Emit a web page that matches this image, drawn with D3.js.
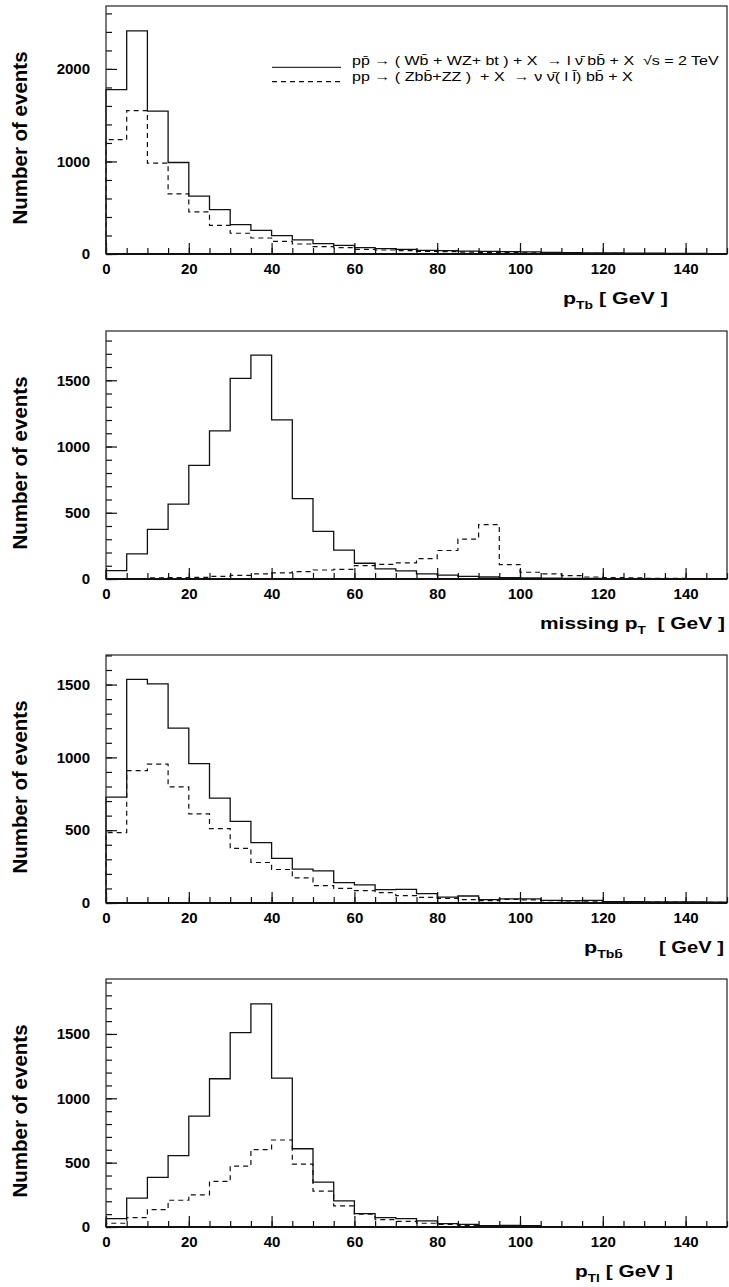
<!DOCTYPE html>
<html>
<head>
<meta charset="utf-8">
<script src="https://cdn.jsdelivr.net/npm/d3@7"></script>
<style>
  body { margin: 0; background: #fff; }
  text { font-family: "Liberation Sans", Arial, sans-serif; white-space: pre; }
</style>
</head>
<body>
<svg id="chart" width="729" height="1287"></svg>
<script>
// 5 GeV bins from 0 to 150 GeV
var binEdges = d3.range(0, 151, 5);

// p_T of b jet
var ptbWbb = [1776, 2412, 1545, 989, 625, 480, 318, 256, 199, 152, 112, 94, 69, 58, 50, 40, 36, 32, 29, 25, 22, 18, 15, 13, 11, 10, 8, 7, 6, 5];
var ptbZbb = [1235, 1549, 982, 650, 455, 310, 224, 173, 137, 108, 79, 69, 50, 43, 36, 29, 25, 20, 18, 14, 12, 10, 8, 7, 6, 5, 4, 4, 3, 3];

// missing p_T
var missWbb = [63, 190, 375, 565, 857, 1118, 1515, 1690, 1201, 606, 360, 218, 119, 76, 61, 38, 30, 20, 15, 10, 8, 6, 5, 4, 3, 3, 2, 2, 2, 2];
var missZbb = [3, 3, 8, 10, 13, 20, 28, 38, 46, 56, 68, 73, 101, 111, 122, 154, 215, 301, 410, 109, 51, 38, 25, 15, 10, 8, 5, 4, 3, 3];

// p_T of b bbar system
var ptbbWbb = [727, 1535, 1505, 1201, 957, 720, 561, 414, 306, 232, 221, 140, 124, 92, 94, 64, 41, 48, 23, 28, 28, 18, 16, 18, 9, 9, 7, 7, 7, 5];
var ptbbZbb = [483, 909, 953, 798, 612, 511, 375, 278, 230, 173, 120, 101, 85, 71, 51, 39, 32, 23, 16, 25, 21, 16, 14, 12, 9, 8, 7, 6, 5, 5];

// p_T of lepton
var ptlWbb = [65, 224, 385, 554, 861, 1152, 1511, 1734, 1157, 608, 348, 203, 104, 73, 65, 47, 26, 21, 10, 13, 10, 3, 3, 2, 2, 2, 2, 1, 1, 1];
var ptlZbb = [29, 73, 135, 208, 250, 354, 473, 601, 676, 489, 278, 164, 99, 57, 44, 29, 21, 13, 8, 8, 5, 4, 3, 3, 2, 2, 2, 1, 1, 1];

var xTicks = d3.range(0, 141, 20);
var legendLabels = [
  "pp\u0304 \u2192 ( Wb\u0304 + WZ+ bt ) + X  \u2192 l \u03bd\u0304 bb\u0304 + X  \u221as = 2 TeV",
  "pp \u2192 ( Zbb\u0304+ZZ )  + X  \u2192 \u03bd \u03bd\u0304( l l\u0304) bb\u0304 + X"
];

var svg = d3.select('#chart');
var x = d3.scaleLinear().domain([0, 150]).range([106, 727]);
var plotH = 248;

var panels = [
  {top: 6,   ymax: 2680, major: [0, 1000, 2000], minor: 200, sig: ptbWbb, bkg: ptbZbb,
   title: [{t: 'p'}, {t: 'Tb', sub: true}, {t: ' [ GeV ]'}], tx: 563, tw: 105},
  {top: 331, ymax: 1872, major: [0, 500, 1000, 1500], minor: 100, sig: missWbb, bkg: missZbb,
   title: [{t: 'missing p'}, {t: 'T', sub: true}, {t: '  [ GeV ]'}], tx: 540, tw: 185},
  {top: 655, ymax: 1703, major: [0, 500, 1000, 1500], minor: 100, sig: ptbbWbb, bkg: ptbbZbb,
   title: [{t: 'p'}, {t: 'Tbb\u0304', sub: true}], tx: 584, tw: 39, title2: '[ GeV ]', t2x: 659, t2w: 65},
  {top: 979, ymax: 1927, major: [0, 500, 1000, 1500], minor: 100, sig: ptlWbb, bkg: ptlZbb,
   title: [{t: 'p'}, {t: 'Tl', sub: true}, {t: ' [ GeV ]'}], tx: 575, tw: 98}
];

// text squeezed/stretched horizontally to a given width
function fitText(parent, px, py, parts, width, size, weight) {
  var g = parent.append('g');
  var t = g.append('text').attr('font-size', size).attr('font-weight', weight || 'bold');
  parts.forEach(function(p) {
    var s = t.append('tspan').text(p.t);
    if (p.sub) s.attr('font-size', size * 0.65).attr('dy', 5);
    else s.attr('dy', p.first ? 0 : null);
  });
  // reset baseline after a subscript
  t.selectAll('tspan').each(function(p, i) {
    if (i > 0 && !parts[i].sub && parts[i - 1].sub) d3.select(this).attr('dy', -5);
  });
  var w = t.node().getComputedTextLength();
  g.attr('transform', 'translate(' + px + ',' + py + ') scale(' + (width / w) + ',1)');
  return g;
}

panels.forEach(function(p) {
  var bottom = p.top + plotH;
  var y = d3.scaleLinear().domain([0, p.ymax]).range([bottom, p.top]);
  var g = svg.append('g');

  var line = d3.line()
    .x(function(d) { return x(d[0]); })
    .y(function(d) { return y(d[1]); })
    .curve(d3.curveStepAfter);

  function steps(vals) {
    var pts = [[0, 0]];
    vals.forEach(function(v, i) { pts.push([binEdges[i], v]); });
    pts.push([150, vals[vals.length - 1]]);
    return pts;
  }

  g.append('path').attr('d', line(steps(p.sig)))
    .attr('fill', 'none').attr('stroke', '#111').attr('stroke-width', 1.3);
  g.append('path').attr('d', line(steps(p.bkg)))
    .attr('fill', 'none').attr('stroke', '#111').attr('stroke-width', 1.2)
    .attr('stroke-dasharray', '5,4');

  // x ticks (inward)
  var xMinor = g.append('g').attr('transform', 'translate(0,' + bottom + ')')
    .call(d3.axisBottom(x).tickValues(d3.range(0, 151, 5)).tickSize(-6).tickFormat(''));
  var xMajor = g.append('g').attr('transform', 'translate(0,' + bottom + ')')
    .call(d3.axisBottom(x).tickValues(xTicks).tickSize(-11).tickPadding(9));
  // y ticks (inward)
  var yMinor = g.append('g').attr('transform', 'translate(' + x(0) + ',0)')
    .call(d3.axisLeft(y).tickValues(d3.range(0, p.ymax, p.minor)).tickSize(-6).tickFormat(''));
  var yMajor = g.append('g').attr('transform', 'translate(' + x(0) + ',0)')
    .call(d3.axisLeft(y).tickValues(p.major).tickSize(-11).tickPadding(16).tickFormat(d3.format('d')));

  [xMinor, xMajor, yMinor, yMajor].forEach(function(a) {
    a.select('.domain').remove();
    a.selectAll('line').attr('stroke', '#111').attr('stroke-width', 1.2);
    a.attr('font-family', null).attr('font-size', 15).attr('font-weight', 'bold');
  });

  // frame
  g.append('rect').attr('x', x(0)).attr('y', p.top)
    .attr('width', x(150) - x(0)).attr('height', plotH)
    .attr('fill', 'none').attr('stroke', '#222').attr('stroke-width', 1.2);
  g.append('line').attr('x1', x(0)).attr('x2', x(150)).attr('y1', bottom).attr('y2', bottom)
    .attr('stroke', '#111').attr('stroke-width', 2);

  // y title
  g.append('text')
    .attr('transform', 'translate(19,' + (p.top + plotH / 2 + 8) + ') rotate(-90)')
    .attr('text-anchor', 'middle').attr('dominant-baseline', 'central')
    .attr('font-size', 20.5).attr('font-weight', 'bold')
    .text('Number of events');

  // x title
  fitText(g, p.tx, bottom + 50, p.title, p.tw, 17);
  if (p.title2) fitText(g, p.t2x, bottom + 50, [{t: p.title2}], p.t2w, 17);
});

// legend in the first panel
var leg = svg.append('g');
leg.append('line').attr('x1', 272).attr('x2', 341).attr('y1', 67.3).attr('y2', 67.3)
  .attr('stroke', '#333').attr('stroke-width', 1.2);
leg.append('line').attr('x1', 272).attr('x2', 341).attr('y1', 81.7).attr('y2', 81.7)
  .attr('stroke', '#111').attr('stroke-width', 1.2).attr('stroke-dasharray', '5,4');
fitText(leg, 352, 64.5, [{t: legendLabels[0]}], 367, 12.5, 'normal');
fitText(leg, 352, 80.7, [{t: legendLabels[1]}], 281, 12.5, 'normal');
</script>
</body>
</html>
